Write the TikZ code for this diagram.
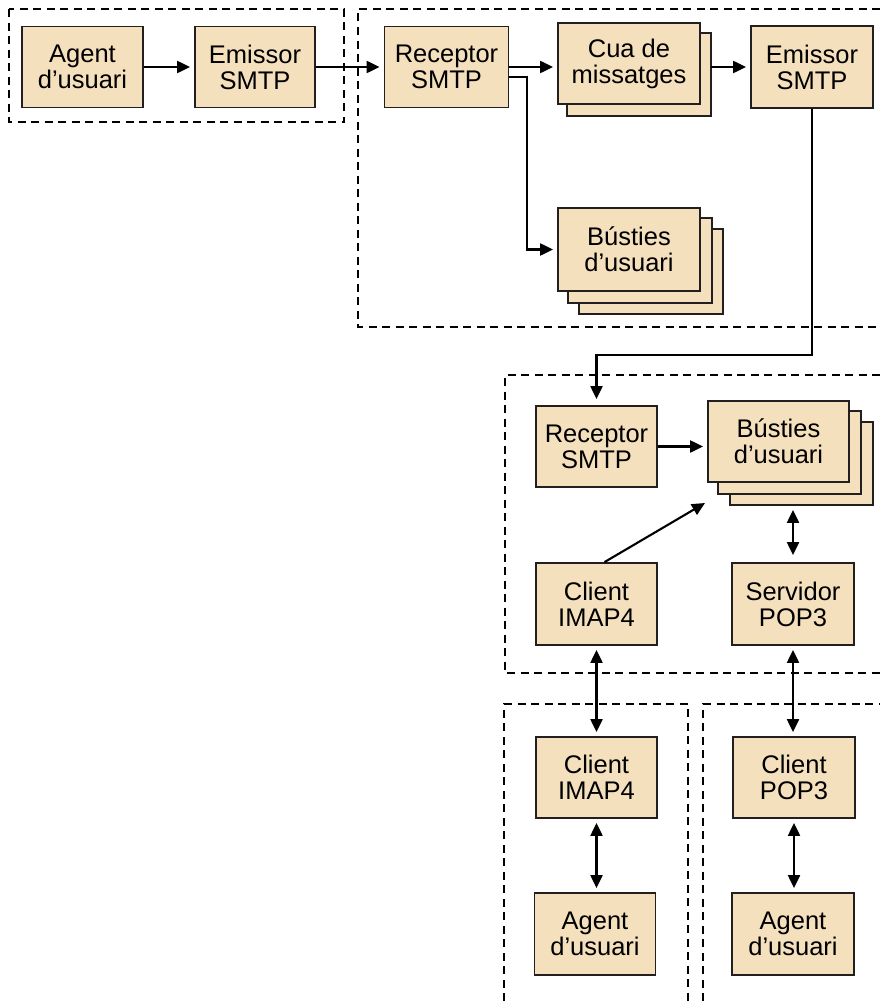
\documentclass[tikz,border=0pt]{standalone}
\usepackage{fontspec}
\setmainfont{Liberation Sans}
\usetikzlibrary{arrows.meta,backgrounds}
\definecolor{boxfill}{RGB}{245,224,190}
\definecolor{boxline}{RGB}{35,31,32}

\begin{document}
\begin{tikzpicture}[x=1pt,y=-1pt,
  box/.style={draw=boxline, line width=1.8pt, fill=boxfill, align=center,
    inner sep=0pt, minimum width=121pt, minimum height=81pt,
    font=\fontsize{25.5}{26}\selectfont},
  stackbox/.style={draw=boxline, line width=1.8pt, fill=boxfill},
  arr/.style={line width=2.1pt, -{Triangle[length=13pt,width=12pt]}, shorten >=4pt},
  dbl/.style={line width=2.1pt, {Triangle[length=13pt,width=12pt]}-{Triangle[length=13pt,width=12pt]},
    shorten >=4pt, shorten <=4pt},
  zone/.style={line width=2pt, dash pattern=on 8pt off 5.5pt}]
\useasboundingbox (0,0) rectangle (880,1001);

% dashed zones
\draw[zone] (9,9) rectangle (344,122);
\draw[zone] (880,9) -- (358,9) -- (358,327) -- (880,327);
\draw[zone] (880,375) -- (505,375) -- (505,673) -- (880,673);
\draw[zone] (504,1001) -- (504,704) -- (688,704) -- (688,1001);
\draw[zone] (703,1001) -- (703,704) -- (880,704);

% sending side
\node[box] (agent1) at (82.5,67) {Agent\\d’usuari};
\node[box, minimum width=120pt] (emis1) at (255,67) {Emissor\\SMTP};

% relay
\node[box, minimum width=124pt] (recv1) at (446.5,67) {Receptor\\SMTP};
\node[box, minimum width=142pt] (cua) at (629,63.5) {Cua de\\missatges};
\node[box, minimum width=122pt, minimum height=82pt] (emis2) at (812,67) {Emissor\\SMTP};
\node[box, minimum width=142pt, minimum height=83pt] (bus1) at (629,249.5) {Bústies\\d’usuari};

% receiving server
\node[box] (recv2) at (596.5,446.5) {Receptor\\SMTP};
\node[box, minimum width=141pt] (bus2) at (778.5,441.5) {Bústies\\d’usuari};
\node[box, minimum height=82pt] (imapA) at (596.5,604) {Client\\IMAP4};
\node[box, minimum width=122pt, minimum height=82pt] (pop3s) at (793,604) {Servidor\\POP3};

% clients
\node[box] (imapB) at (596.5,777.5) {Client\\IMAP4};
\node[box, minimum width=122pt] (pop3c) at (794,777.5) {Client\\POP3};
\node[box, minimum height=82pt] (agentL) at (595,934) {Agent\\d’usuari};
\node[box, minimum width=122pt, minimum height=82pt] (agentR) at (793,934) {Agent\\d’usuari};

% stacked copies behind the queue and mailbox nodes
\begin{scope}[on background layer]
  \draw[stackbox] ([shift={(10,11)}]cua.north west) rectangle ([shift={(10,11)}]cua.south east);
  \draw[stackbox] ([shift={(22,22)}]bus1.north west) rectangle ([shift={(22,22)}]bus1.south east);
  \draw[stackbox] ([shift={(11,11)}]bus1.north west) rectangle ([shift={(11,11)}]bus1.south east);
  \draw[stackbox] ([shift={(23,22)}]bus2.north west) rectangle ([shift={(23,22)}]bus2.south east);
  \draw[stackbox] ([shift={(11,11)}]bus2.north west) rectangle ([shift={(11,11)}]bus2.south east);
\end{scope}

\coordinate (bend) at (812,355);
\coordinate (bus2base) at ([yshift=-23pt]bus2.south);
\coordinate (imapend) at (705,503);

% connectors
\draw[arr] (agent1) -- (emis1);
\draw[arr] (emis1) -- (recv1);
\draw[arr] (recv1.east) -- (recv1.east -| cua.west);
\draw[arr] (recv1.east -| cua.east) ++(10,0) -- (emis2.west);
\draw[arr] ([yshift=-10pt]recv1.east) -- ++(18,0) |- (bus1.west);
\draw[arr, shorten >=6pt] (emis2.south) -- (bend) -| (recv2.north);
\draw[arr] (recv2.east) -- (recv2.east -| bus2.west);
\draw[line width=2.1pt, -{Triangle[length=13pt,width=12pt]}] ([xshift=8pt]imapA.north) -- (imapend);
\draw[dbl, shorten <=7pt] (pop3s.north) -- (pop3s.north |- bus2base);
\draw[dbl] (imapA) -- (imapB);
\draw[dbl] (pop3s) -- (pop3s.south |- pop3c.north);
\draw[dbl] (imapB.south) -- (imapB.south |- agentL.north);
\draw[dbl] (pop3c) -- (pop3c.south |- agentR.north);
\end{tikzpicture}
\end{document}
